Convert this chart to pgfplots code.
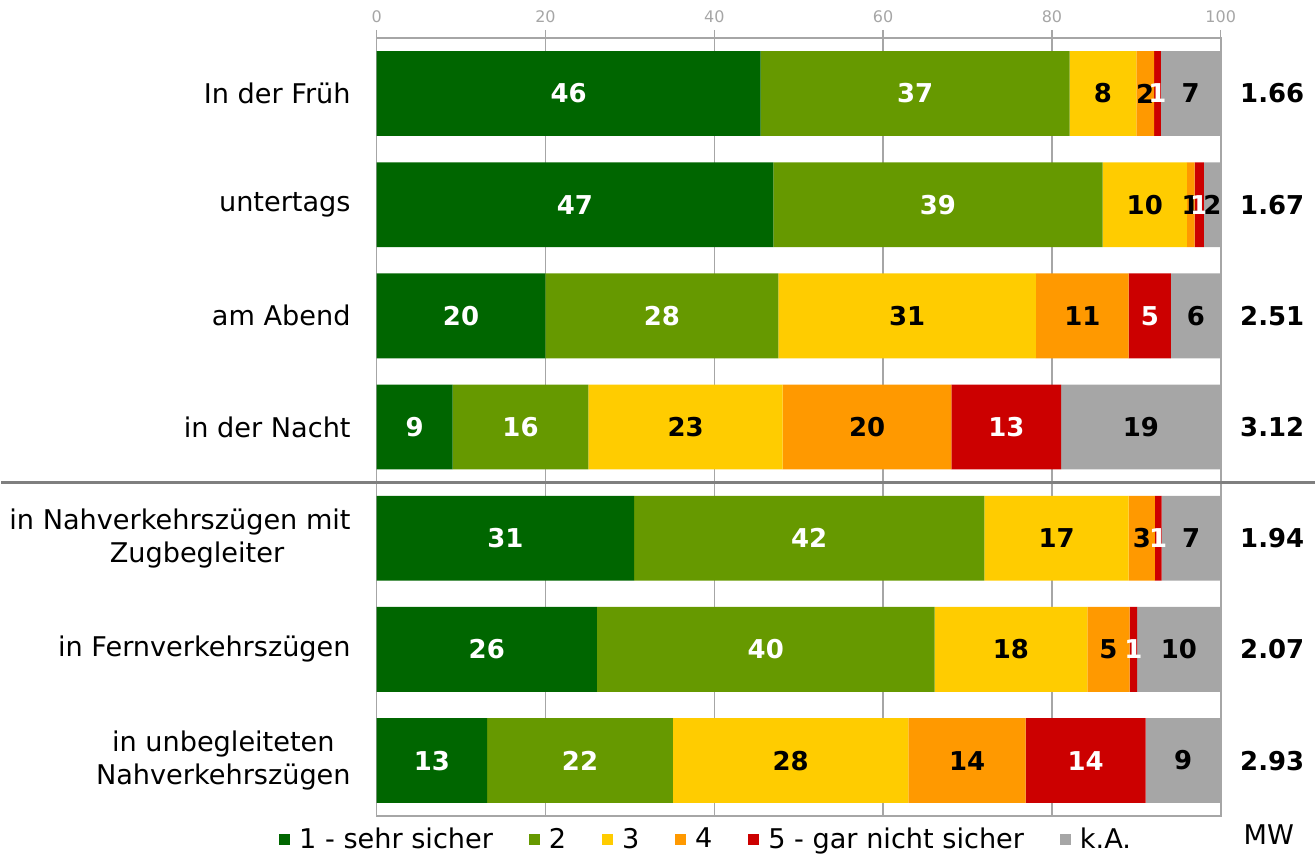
\documentclass[border=0pt]{standalone}
\usepackage{pgfplots}
\usepackage{pgfplotstable}
\pgfplotsset{compat=1.18}
\usepackage{fontspec}
\setmainfont{DejaVu Sans}
\definecolor{cA}{HTML}{006600}
\definecolor{cB}{HTML}{669900}
\definecolor{cC}{HTML}{FFCC00}
\definecolor{cD}{HTML}{FF9900}
\definecolor{cE}{HTML}{CC0000}
\definecolor{cF}{HTML}{A6A6A6}
\definecolor{axgray}{HTML}{A6A6A6}
\definecolor{sepgray}{HTML}{7F7F7F}

\pgfplotstableread{
y a la b lb c lc d ld e le f lf m
0 45.5 46 36.6 37 7.9 8 2.1 2 0.8 1 7.1 7 1.66
1 47.0 47 39.0 39 10.0 10 0.9 1 1.1 1 2.0 2 1.67
2 20.0 20 27.6 28 30.5 31 11.0 11 5.0 5 5.9 6 2.51
3 9.0 9 16.1 16 23.0 23 20.0 20 13.0 13 18.9 19 3.12
4 30.5 31 41.5 42 17.1 17 3.1 3 0.8 1 7.0 7 1.94
5 26.1 26 40.0 40 18.1 18 5.0 5 0.9 1 9.9 10 2.07
6 13.1 13 22.0 22 27.9 28 13.9 14 14.2 14 8.9 9 2.93
}\data

\pgfplotsset{
  common/.style={
    width=423pt, height=390pt, scale only axis,
    xmin=0, xmax=100, ymin=-0.5, ymax=6.5, y dir=reverse,
  },
  lab/.style={draw=none, mark=none, nodes near coords,
    point meta=explicit symbolic,
    every node near coord/.append style={anchor=center, text=#1,
      font=\fontsize{13}{15}\selectfont\bfseries}},
}

\begin{document}
\begin{tikzpicture}
\begin{axis}[common,
  xbar stacked, bar width=0.763,
  clip=false,
  axis line style={axgray, line width=0.8pt},
  xtick={0,20,...,100},
  xtick pos=right, xticklabel pos=right,
  tick align=outside, major tick length=4pt,
  xtick style={axgray, line width=0.7pt},
  xticklabel style={text=axgray, font=\fontsize{8}{9}\selectfont},
  /pgf/number format/assume math mode=true,
  xmajorgrids, grid style={axgray, line width=0.7pt},
  ytick={0,...,6},
  ytick style={draw=none},
  yticklabels={In der Früh, untertags, am Abend, in der Nacht,
    {in Nahverkehrszügen mit\\\hspace*{17pt}Zugbegleiter},
    in Fernverkehrszügen,
    {in unbegleiteten\\Nahverkehrszügen}},
  yticklabel style={align=center, text=black,
    font=\fontsize{13.6}{16.5}\selectfont, xshift=-5.5pt},
  legend columns=-1,
  legend style={draw=none, fill=none, inner sep=0pt,
    at={(-0.1158,-0.03)}, anchor=west,
    font=\fontsize{13.6}{15}\selectfont,
    /tikz/every even column/.append style={column sep=16pt}},
  legend image code/.code={\fill[#1] (0pt,-2.7pt) rectangle (5.4pt,2.7pt); \path (8pt,0pt);},
]
\addplot[fill=cA, draw=none] table[x=a, y=y] {\data};
\addplot[fill=cB, draw=none] table[x=b, y=y] {\data};
\addplot[fill=cC, draw=none] table[x=c, y=y] {\data};
\addplot[fill=cD, draw=none] table[x=d, y=y] {\data};
\addplot[fill=cE, draw=none] table[x=e, y=y] {\data};
\addplot[fill=cF, draw=none] table[x=f, y=y] {\data};
\legend{1 - sehr sicher, 2, 3, 4, 5 - gar nicht sicher, k.A.}
\draw[sepgray, line width=1.5pt] (axis cs:-44.44,3.5) -- (axis cs:111.11,3.5);
\node[font=\fontsize{13.6}{15}\selectfont] at (axis cs:105.7,6.67) {MW};
\path (axis cs:-44.44,-0.841) rectangle (axis cs:111.11,6.832);
\end{axis}
\begin{axis}[common, hide axis, clip=false]
\addplot[lab=white] table[x expr={\thisrow{a}/2}, y=y, meta=la] {\data};
\addplot[lab=white] table[x expr={\thisrow{a}+\thisrow{b}/2}, y=y, meta=lb] {\data};
\addplot[lab=black] table[x expr={\thisrow{a}+\thisrow{b}+\thisrow{c}/2}, y=y, meta=lc] {\data};
\addplot[lab=black] table[x expr={\thisrow{a}+\thisrow{b}+\thisrow{c}+\thisrow{d}/2}, y=y, meta=ld] {\data};
\addplot[lab=white] table[x expr={\thisrow{a}+\thisrow{b}+\thisrow{c}+\thisrow{d}+\thisrow{e}/2}, y=y, meta=le] {\data};
\addplot[lab=black] table[x expr={100-\thisrow{f}/2}, y=y, meta=lf] {\data};
\addplot[lab=black] table[x expr=106.1, y=y, meta=m] {\data};
\end{axis}
\end{tikzpicture}
\end{document}
